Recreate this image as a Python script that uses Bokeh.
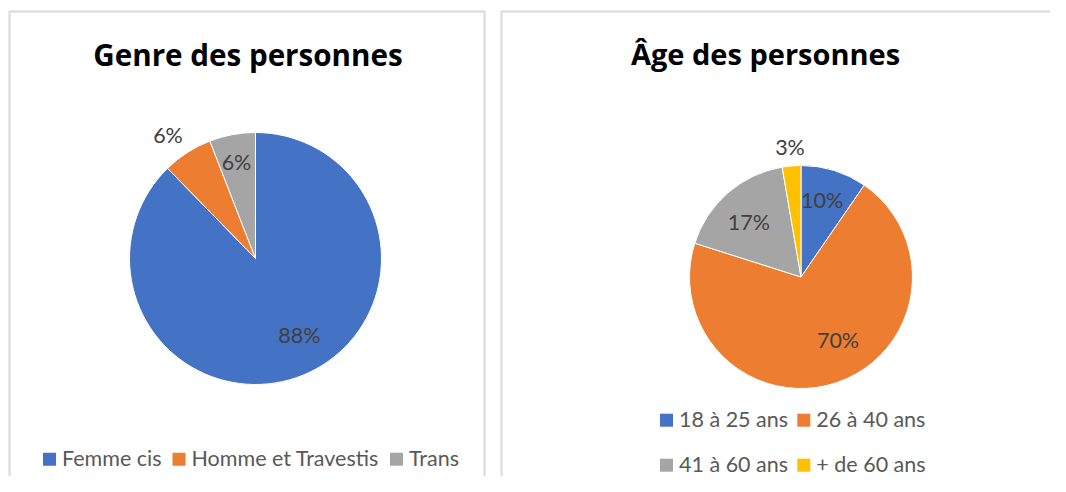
import math
from bokeh.plotting import figure
from bokeh.models import Range1d, ColumnDataSource
from bokeh.core.properties import value
from bokeh.embed import file_html
from bokeh.resources import INLINE

# ---------------- data ----------------
genre_cats = ["Femme cis", "Homme et Travestis", "Trans"]
genre_vals = [87.7, 6.4, 5.9]
genre_colors = ["#4472C4", "#ED7D31", "#A5A5A5"]

age_cats = ["18 à 25 ans", "26 à 40 ans", "41 à 60 ans", "+ de 60 ans"]
age_vals = [9.6, 70.3, 17.4, 2.7]
age_colors = ["#4472C4", "#ED7D31", "#A5A5A5", "#FFC000"]

title_genre = "Genre des personnes"
title_age = "Âge des personnes"

# ---------------- layout ----------------
W, H = 1050, 476
TXT_SHIFT = 8.5      # baseline correction for 21.5px text
TITLE_SHIFT = 12     # baseline correction for title text


def Y(sy):
    """screen y (px from top of picture) -> data y"""
    return H - sy


FONT = "Lato"
TITLE_FONT = "Open Sans"
LABEL_COLOR = "#404040"
LEGEND_COLOR = "#595959"

p = figure(width=W, height=H, output_backend="svg", toolbar_location=None,
           x_range=Range1d(0, W), y_range=Range1d(0, H),
           x_axis_type=None, y_axis_type=None, min_border=0,
           outline_line_color=None, background_fill_color="white")
p.grid.visible = False

# panel borders
p.quad(left=[9, 501], right=[484, 1200], top=[Y(11), Y(11)], bottom=[-100, -100],
       fill_alpha=0, line_color="#D9D9D9", line_width=2)


def pie(cx, cy, r, vals, colors, cats, label_offsets):
    total = float(sum(vals))
    fr = [v / total for v in vals]
    cum = [0.0]
    for f in fr:
        cum.append(cum[-1] + f)
    starts = [math.pi / 2 - 2 * math.pi * cum[i + 1] for i in range(len(vals))]
    ends = [math.pi / 2 - 2 * math.pi * cum[i] for i in range(len(vals))]
    src = ColumnDataSource(dict(start=starts, end=ends, color=colors, cat=cats))
    p.wedge(x=cx, y=Y(cy), radius=r, start_angle="start", end_angle="end",
            fill_color="color", line_color="white", line_width=1, source=src)
    labels = ["%d%%" % round(f * 100) for f in fr]
    lx = [cx + o[0] for o in label_offsets]
    ly = [Y(cy + o[1] - TXT_SHIFT) for o in label_offsets]
    p.text(x=lx, y=ly, text=labels, text_font=value(FONT), text_font_size="21.5px",
           text_color=LABEL_COLOR, text_align="center", text_baseline="alphabetic")


# left pie (Genre)
pie(255, 258, 126, genre_vals, genre_colors, genre_cats,
    [(43.8, 84.7), (-87.5, -115.3), (-19, -88)])
# right pie (Age)
pie(800.5, 276.5, 111.5, age_vals, age_colors, age_cats,
    [(21.2, -68.2), (37, 71.8), (-52.2, -46.5), (-11, -121.5)])

# titles
p.text(x=[247.5], y=[Y(66 - TITLE_SHIFT)], text=[title_genre], text_font=value(TITLE_FONT),
       text_font_size="29.6px", text_font_style="bold", text_color="black",
       text_align="center", text_baseline="alphabetic")
p.text(x=[765], y=[Y(64.5 - TITLE_SHIFT)], text=[title_age], text_font=value(TITLE_FONT),
       text_font_size="29px", text_font_style="bold", text_color="black",
       text_align="center", text_baseline="alphabetic")


def legend(items, colors, positions, sq=13):
    sx = [pos[0] for pos in positions]
    sy = [Y(pos[1]) for pos in positions]
    p.rect(x=sx, y=sy, width=sq, height=sq, fill_color=colors, line_color=None)
    tx = [pos[0] + sq / 2 + 6 for pos in positions]
    ty = [Y(pos[1] + 7 - TXT_SHIFT) for pos in positions]
    p.text(x=tx, y=ty, text=items, text_font=value(FONT), text_font_size="21.5px",
           text_color=LEGEND_COLOR, text_align="left", text_baseline="alphabetic")


legend(genre_cats, genre_colors, [(49, 458.7), (178.5, 458.7), (396, 458.7)])
legend(age_cats, age_colors, [(666, 419.7), (803.3, 419.7), (666, 464.7), (803.3, 464.7)])

open("out.html", "w").write(file_html(p, INLINE))
